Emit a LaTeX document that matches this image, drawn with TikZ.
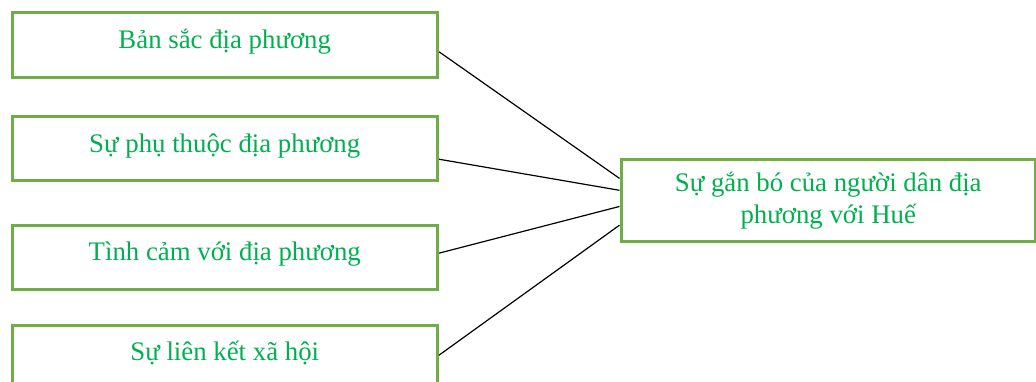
\documentclass[tikz,border=0pt]{standalone}
\usepackage{fontspec}
\setmainfont{Liberation Serif}
\usetikzlibrary{calc}
\definecolor{boxgreen}{HTML}{70AD47}
\definecolor{textgreen}{HTML}{00B050}

\begin{document}
\begin{tikzpicture}[x=0.5pt,y=-0.5pt,
                    factor/.style={draw=boxgreen,line width=1.5pt,text=textgreen,
                      anchor=north west,inner sep=0pt,
                      minimum width=212.75pt,minimum height=32.2pt,
                      font=\fontsize{13.4}{16.3}\selectfont,
                      text height=8pt,text depth=4.5pt},
                    outcome/.style={draw=boxgreen,line width=1.5pt,text=textgreen,
                      anchor=north west,inner sep=0pt,align=center,
                      minimum width=207.25pt,minimum height=41pt,
                      font=\fontsize{13.4}{16.3}\selectfont},
                    link/.style={line width=0.6pt}]
  \path[use as bounding box,clip] (0,0) rectangle (1036,381);

  \node[factor] (identity) at (10.5,11.3) {Bản sắc địa phương};
  \node[factor] (dependence) at (10.5,115) {Sự phụ thuộc địa phương};
  \node[factor] (affect) at (10.5,223.5) {Tình cảm với địa phương};
  \node[factor] (social) at (10.5,323.5) {Sự liên kết xã hội};
  \node[outcome] (attachment) at (619.5,158) {Sự gắn bó của người dân địa\\phương với Huế};

  \foreach \from/\s/\t in {identity/0.6/0.24,dependence/0.656/0.38,affect/0.44/0.57,social/0.47/0.79}
    \draw[link] ($(\from.north east)!\s!(\from.south east)$) -- ($(attachment.north west)!\t!(attachment.south west)$);
\end{tikzpicture}
\end{document}
